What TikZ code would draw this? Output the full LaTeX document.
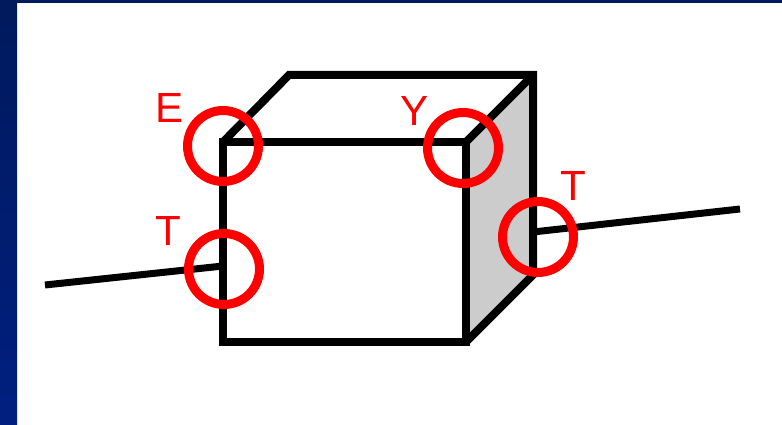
\documentclass[tikz,border=0pt]{standalone}
\usepackage{fontspec}
\setmainfont{Liberation Sans}
\usepackage{xcolor}
\usepackage{tikz}
\usetikzlibrary{positioning}

\definecolor{navytop}{RGB}{0,26,92}
\definecolor{navybottom}{RGB}{0,31,128}
\definecolor{facegray}{RGB}{204,204,204}

\begin{document}
\begin{tikzpicture}[
    x=0.02cm, y=-0.02cm,
    edge/.style={draw=black, line width=0.16cm, line join=miter},
    wire/.style={draw=black, line width=0.14cm},
    ring/.style={circle, draw=red, line width=0.18cm, minimum size=1.42cm, inner sep=0pt},
    letter/.style={text=red, font=\fontsize{24}{24}\selectfont, inner sep=0pt}
]
\useasboundingbox (0,0) rectangle (782,425);
% backdrop
\shade[top color=navytop, bottom color=navybottom] (0,0) rectangle (17,425);
\fill[navytop] (0,0) rectangle (782,3);

% cube corners
\coordinate (fronttl) at (223,142);
\coordinate (fronttr) at (466,142);
\coordinate (frontbl) at (223,342);
\coordinate (frontbr) at (466,342);
\coordinate (backtl) at (289,75);
\coordinate (backtr) at (533,75);
\coordinate (backbr) at (533,275);
\coordinate (wireleft) at (45,285);
\coordinate (wireinleft) at (223,266);
\coordinate (wireinright) at (533,232);
\coordinate (wireright) at (740,209);

\fill[facegray] (fronttr) -- (backtr) -- (backbr) -- (frontbr) -- cycle;
\draw[wire] (wireleft) -- (wireinleft);
\draw[wire] (wireinright) -- (wireright);
\draw[edge] (fronttl) -- (fronttr) -- (frontbr) -- (frontbl) -- cycle;
\draw[edge] (fronttl) -- (backtl) -- (backtr) -- (backbr) -- (frontbr);
\draw[edge] (fronttr) -- (backtr);

\node[ring] (ringe) at (223,146) {};
\node[ring] (ringy) at (463,148) {};
\node[ring] (ringtl) at (224,269) {};
\node[ring] (ringtr) at (538,237) {};

\node[letter] (lete) at (170,108) {E};
\node[letter] (lety) at (415,111) {Y};
\node[letter] (lettl) at (168,231) {T};
\node[letter] (lettr) at (573,186) {T};
\end{tikzpicture}
\end{document}
